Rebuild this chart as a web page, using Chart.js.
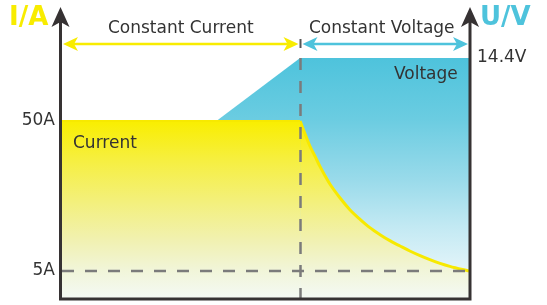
<!DOCTYPE html>
<html>
<head>
<meta charset="utf-8">
<script src="https://cdn.jsdelivr.net/npm/chart.js@4"></script>
<style>
  html,body{margin:0;padding:0;background:#fff;}
  #wrap{width:547px;height:305px;position:relative;}
</style>
</head>
<body>
<div id="wrap"><canvas id="c"></canvas></div>
<script>
// ---- data (time in arbitrary units 0..100) ----
const voltageX = [0, 58.6, 100];
const voltageV = [3.6, 14.4, 14.4];
const currentX = [0, 58.6, 59.8, 61.0, 62.3, 63.5, 64.7, 65.9, 68.4, 70.8, 73.3, 75.7, 78.2, 80.6, 83.1, 85.5, 88.0, 90.4, 92.9, 95.3, 100];
const currentA = [50, 50, 46.2, 42.5, 39.3, 36.3, 33.6, 31.1, 26.9, 23.4, 20.5, 18.0, 15.9, 14.1, 12.5, 11.0, 9.6, 8.4, 7.3, 6.4, 5.0];
const tickA = [5, 50];
const tickV = [14.4];
const switchX = 58.6;
const floorA = 5;
const phaseLabels = ['Constant Current', 'Constant Voltage'];
const axisTitles = ['I/A', 'U/V'];
const seriesLabels = ['Current', 'Voltage'];

const FONT = "'DejaVu Sans', sans-serif";
const YEL = '#f8ec00';
const CYAN = '#4ec3dc';
const DARK = '#363233';

function yellowGrad(ctx) {
  const ch = ctx.chart, ca = ch.chartArea;
  if (!ca) return YEL;
  const top = ch.scales.y.getPixelForValue(Math.max(...currentA));
  const g = ch.ctx.createLinearGradient(0, top, 0, ca.bottom);
  g.addColorStop(0, '#f9ee00');
  g.addColorStop(0.22, '#f6ef40');
  g.addColorStop(0.45, '#f3f07a');
  g.addColorStop(0.67, '#f1f1b0');
  g.addColorStop(0.84, '#f1f5d8');
  g.addColorStop(1, '#f4f9f4');
  return g;
}
function blueGrad(ctx) {
  const ch = ctx.chart, ca = ch.chartArea;
  if (!ca) return CYAN;
  const top = ch.scales.y2.getPixelForValue(Math.max(...voltageV));
  const g = ch.ctx.createLinearGradient(0, top, 0, ca.bottom);
  g.addColorStop(0, '#4ec3dc');
  g.addColorStop(0.25, '#6acce1');
  g.addColorStop(0.5, '#98daea');
  g.addColorStop(0.7, '#c2e9f3');
  g.addColorStop(0.88, '#e2f4f9');
  g.addColorStop(1, '#eef8fb');
  return g;
}

function arrowV(ctx, x, tipY, color) {
  ctx.fillStyle = color;
  ctx.beginPath();
  ctx.moveTo(x, tipY);
  ctx.lineTo(x - 9, tipY + 20);
  ctx.lineTo(x, tipY + 15);
  ctx.lineTo(x + 9, tipY + 20);
  ctx.closePath();
  ctx.fill();
}
function arrowH(ctx, x, y, dir, color) {
  ctx.fillStyle = color;
  ctx.beginPath();
  ctx.moveTo(x, y);
  ctx.lineTo(x - dir * 15, y - 7);
  ctx.lineTo(x - dir * 11, y);
  ctx.lineTo(x - dir * 15, y + 7);
  ctx.closePath();
  ctx.fill();
}

const deco = {
  id: 'deco',
  afterDatasetsDraw(chart) {
    const ctx = chart.ctx, ca = chart.chartArea;
    const xs = chart.scales.x, ys = chart.scales.y, ys2 = chart.scales.y2;
    const sx = Math.round(xs.getPixelForValue(switchX)) + 0.5;
    const yFloor = ys.getPixelForValue(floorA);
    const yVtop = ys2.getPixelForValue(Math.max(...voltageV));
    ctx.save();
    ctx.strokeStyle = '#7b7b7b';
    ctx.lineWidth = 2.5;
    ctx.setLineDash([12, 11]);
    ctx.beginPath();
    ctx.moveTo(sx, yVtop);
    ctx.lineTo(sx, ca.bottom);
    ctx.stroke();
    ctx.beginPath();
    ctx.moveTo(ca.left + 1, yFloor);
    ctx.lineTo(ca.right, yFloor);
    ctx.stroke();
    ctx.setLineDash([]);

    ctx.strokeStyle = DARK;
    ctx.lineWidth = 3;
    const lx = ca.left - 0.5, rx = ca.right + 1, by = ca.bottom + 1;
    ctx.beginPath();
    ctx.moveTo(lx, 20); ctx.lineTo(lx, by + 1.5);
    ctx.moveTo(rx, 20); ctx.lineTo(rx, by + 1.5);
    ctx.moveTo(lx - 1.5, by); ctx.lineTo(rx + 1.5, by);
    ctx.stroke();
    arrowV(ctx, lx, 7, DARK);
    arrowV(ctx, rx, 7, DARK);

    const ay = 44;
    ctx.lineWidth = 2.5;
    ctx.strokeStyle = YEL;
    ctx.beginPath();
    ctx.moveTo(ca.left + 8, ay); ctx.lineTo(sx - 10, ay);
    ctx.stroke();
    arrowH(ctx, ca.left + 2, ay, -1, YEL);
    arrowH(ctx, sx - 2, ay, 1, YEL);
    ctx.strokeStyle = CYAN;
    ctx.beginPath();
    ctx.moveTo(sx + 10, ay); ctx.lineTo(ca.right - 6, ay);
    ctx.stroke();
    arrowH(ctx, sx + 2, ay, -1, CYAN);
    arrowH(ctx, ca.right - 1, ay, 1, CYAN);
    ctx.strokeStyle = '#555';
    ctx.lineWidth = 2;
    ctx.beginPath();
    ctx.moveTo(sx, ay - 5); ctx.lineTo(sx, ay + 4);
    ctx.stroke();

    ctx.fillStyle = '#333';
    ctx.font = '17px ' + FONT;
    ctx.textAlign = 'center';
    ctx.textBaseline = 'middle';
    ctx.fillText(phaseLabels[0], (ca.left + sx) / 2, 29);
    ctx.fillText(phaseLabels[1], (sx + ca.right) / 2 - 3, 29);
    ctx.textAlign = 'left';
    ctx.fillText(seriesLabels[0], 73, 144);
    ctx.fillText(seriesLabels[1], 394, 75);

    ctx.font = 'bold 26px ' + FONT;
    ctx.fillStyle = YEL;
    ctx.fillText(axisTitles[0], 9, 18);
    ctx.fillStyle = CYAN;
    ctx.fillText(axisTitles[1], 480, 18);
    ctx.restore();
  }
};

function fixPad(s, w) { s.width = w; s.paddingTop = 0; s.paddingBottom = 0; }

const pts = currentX.map((x, i) => ({ x, y: currentA[i] }));
const flatPts = pts.slice(0, 2);
const decayPts = pts.slice(1);

new Chart(document.getElementById('c'), {
  type: 'line',
  data: {
    datasets: [
      {
        label: seriesLabels[0],
        data: flatPts,
        yAxisID: 'y',
        borderColor: '#f7e900',
        borderWidth: 2,
        backgroundColor: yellowGrad,
        fill: 'start',
        pointRadius: 0,
        tension: 0
      },
      {
        label: seriesLabels[0] + ' (CV)',
        data: decayPts,
        yAxisID: 'y',
        borderColor: '#f7e900',
        borderWidth: 3,
        backgroundColor: yellowGrad,
        fill: 'start',
        pointRadius: 0,
        cubicInterpolationMode: 'monotone'
      },
      {
        label: seriesLabels[1],
        data: voltageX.map((x, i) => ({ x, y: voltageV[i] })),
        yAxisID: 'y2',
        borderWidth: 0,
        borderColor: 'rgba(0,0,0,0)',
        backgroundColor: blueGrad,
        fill: 'start',
        pointRadius: 0,
        tension: 0
      }
    ]
  },
  options: {
    responsive: true,
    maintainAspectRatio: false,
    animation: false,
    layout: { padding: { top: 30, bottom: 7, left: 0, right: 0 } },
    plugins: { legend: { display: false }, tooltip: { enabled: false } },
    scales: {
      x: { type: 'linear', min: 0, max: 100, display: false },
      y: {
        position: 'left', min: -3.1, max: 77.3,
        grid: { display: false, drawTicks: false },
        border: { display: false },
        afterBuildTicks: s => { s.ticks = tickA.map(v => ({ value: v })); },
        afterFit: s => fixPad(s, 61),
        ticks: {
          autoSkip: false, padding: 6, color: '#333',
          font: { family: FONT, size: 17 },
          callback: v => v + 'A'
        }
      },
      y2: {
        position: 'right', min: 0, max: 16.08,
        grid: { display: false, drawTicks: false },
        border: { display: false },
        afterBuildTicks: s => { s.ticks = tickV.map(v => ({ value: v })); },
        afterFit: s => fixPad(s, 78),
        ticks: {
          autoSkip: false, padding: 8, color: '#333',
          font: { family: FONT, size: 17 },
          callback: v => v + 'V'
        }
      }
    }
  },
  plugins: [deco]
});
</script>
</body>
</html>
